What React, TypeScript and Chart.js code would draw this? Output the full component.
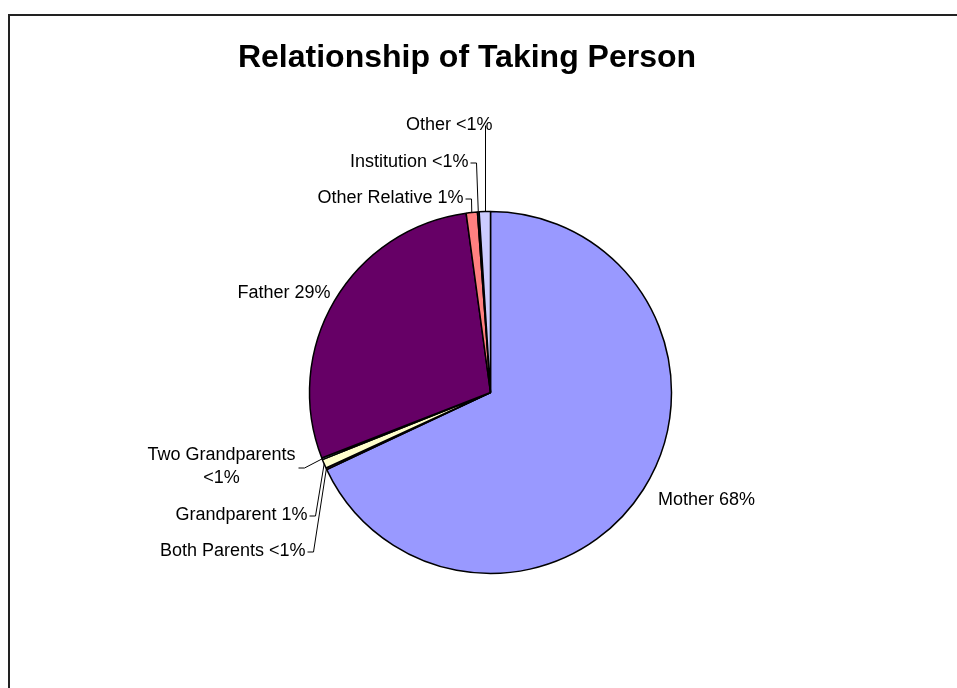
import React, { useEffect, useRef } from "react";
import { Chart, registerables } from "chart.js";

Chart.register(...registerables);

const TITLE = "Relationship of Taking Person";
const categories = [
  "Mother",
  "Both Parents",
  "Grandparent",
  "Two Grandparents",
  "Father",
  "Other Relative",
  "Institution",
  "Other",
];
const values = [68.0, 0.15, 0.8, 0.15, 28.75, 1.0, 0.15, 1.0];
const percentLabels = ["68%", "<1%", "1%", "<1%", "29%", "1%", "<1%", "<1%"];
const colors = [
  "#9999FF",
  "#993366",
  "#FFFFCC",
  "#CCFFFF",
  "#660066",
  "#FF8080",
  "#0066CC",
  "#CCCCFF",
];

// label placement relative to the pie centre (layout only)
type Layout = {
  dx: number;
  dy: number;
  align: "left" | "right" | "center";
  leader: "none" | "elbow" | "vertical";
  lines?: number;
  lx?: number;
  ly?: number;
};
const labelLayout: Layout[] = [
  { dx: 216, dy: 108, align: "center", leader: "none" },
  { dx: -185, dy: 159, align: "right", leader: "elbow" },
  { dx: -183, dy: 123, align: "right", leader: "elbow" },
  { dx: -269, dy: 63, align: "center", leader: "elbow", lines: 2, lx: -192, ly: 75 },
  { dx: -160, dy: -99, align: "right", leader: "none" },
  { dx: -27, dy: -194, align: "right", leader: "elbow" },
  { dx: -22, dy: -230, align: "right", leader: "elbow" },
  { dx: 2, dy: -267, align: "right", leader: "vertical" },
];

const FONT = '"Liberation Sans", Arial, Helvetica, sans-serif';

const framePlugin = {
  id: "frameAndTitle",
  beforeDraw(chart: any) {
    const ctx = chart.ctx;
    ctx.save();
    ctx.fillStyle = "#ffffff";
    ctx.fillRect(0, 0, chart.width, chart.height);
    ctx.strokeStyle = "#222222";
    ctx.lineWidth = 2;
    ctx.strokeRect(9, 15, chart.width + 20, chart.height + 20);
    ctx.fillStyle = "#000000";
    ctx.font = `bold 32px ${FONT}`;
    ctx.textAlign = "center";
    ctx.textBaseline = "middle";
    ctx.fillText(TITLE, 467, 58);
    ctx.restore();
  },
};

const labelPlugin = {
  id: "outerLabels",
  afterDatasetsDraw(chart: any) {
    const ctx = chart.ctx;
    const meta = chart.getDatasetMeta(0);
    ctx.save();
    ctx.font = `18px ${FONT}`;
    ctx.fillStyle = "#000000";
    ctx.strokeStyle = "#000000";
    ctx.lineWidth = 1;
    ctx.textBaseline = "middle";
    meta.data.forEach((arc: any, i: number) => {
      const p = arc.getProps(["x", "y", "startAngle", "endAngle", "outerRadius"], true);
      const mid = (p.startAngle + p.endAngle) / 2;
      const ax = p.x + Math.cos(mid) * p.outerRadius;
      const ay = p.y + Math.sin(mid) * p.outerRadius;
      const L = labelLayout[i];
      const tx = p.x + L.dx;
      const ty = p.y + L.dy;
      ctx.textAlign = L.align;
      if (L.lines === 2) {
        ctx.fillText(categories[i], tx, ty);
        ctx.fillText(percentLabels[i], tx, ty + 23);
      } else {
        ctx.fillText(`${categories[i]} ${percentLabels[i]}`, tx, ty);
      }
      if (L.leader === "elbow") {
        let sx = tx + 2;
        let sy = ty;
        if (L.lx !== undefined && L.ly !== undefined) {
          sx = p.x + L.lx;
          sy = p.y + L.ly;
        }
        ctx.beginPath();
        ctx.moveTo(sx, sy + 0.5);
        ctx.lineTo(sx + 6, sy + 0.5);
        ctx.lineTo(ax, ay);
        ctx.stroke();
      } else if (L.leader === "vertical") {
        ctx.beginPath();
        ctx.moveTo(Math.round(ax) + 0.5, ty);
        ctx.lineTo(Math.round(ax) + 0.5, ay);
        ctx.stroke();
      }
    });
    ctx.restore();
  },
};

export default function App() {
  const ref = useRef<HTMLCanvasElement | null>(null);
  useEffect(() => {
    if (!ref.current) return;
    const chart = new Chart(ref.current, {
      type: "pie",
      data: {
        labels: categories,
        datasets: [
          {
            data: values,
            backgroundColor: colors,
            borderColor: "#000000",
            borderWidth: 1.5,
            radius: 181,
          } as any,
        ],
      },
      options: {
        responsive: false,
        animation: false,
        devicePixelRatio: 1,
        layout: { padding: { left: 24, right: 0, top: 97, bottom: 0 } },
        plugins: {
          legend: { display: false },
          title: { display: false },
          tooltip: { enabled: false },
        },
      },
      plugins: [framePlugin, labelPlugin],
    });
    return () => chart.destroy();
  }, []);
  return (
    <div style={{ position: "absolute", left: 0, top: 0, width: 957, height: 688 }}>
      <canvas ref={ref} width={957} height={688} />
    </div>
  );
}
